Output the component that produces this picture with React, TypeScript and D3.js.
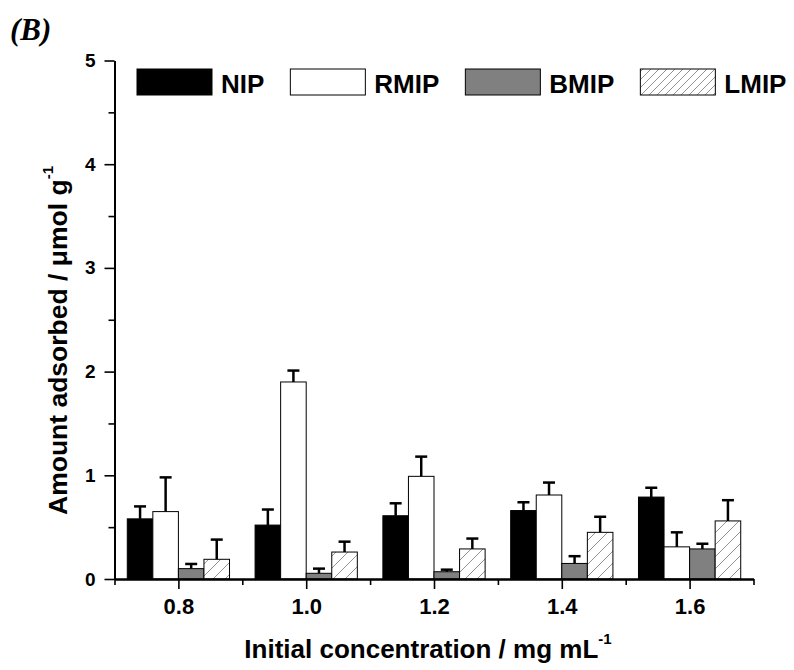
import React, { useEffect, useRef } from "react";
import * as d3 from "d3";

// initial concentration (mg/mL)
const categories = [0.8, 1.0, 1.2, 1.4, 1.6];
const seriesNames = ["NIP", "RMIP", "BMIP", "LMIP"];

// amount adsorbed (umol/g) and the upper error
const nipValues = [0.58, 0.52, 0.61, 0.66, 0.79];
const nipErrors = [0.12, 0.15, 0.12, 0.08, 0.09];
const rmipValues = [0.65, 1.9, 0.99, 0.81, 0.31];
const rmipErrors = [0.33, 0.11, 0.19, 0.12, 0.14];
const bmipValues = [0.1, 0.055, 0.07, 0.15, 0.29];
const bmipErrors = [0.045, 0.045, 0.02, 0.07, 0.05];
const lmipValues = [0.19, 0.26, 0.29, 0.45, 0.56];
const lmipErrors = [0.19, 0.1, 0.1, 0.15, 0.2];

const yTicks = [0, 1, 2, 3, 4, 5];
const yMinorTicks = [0.5, 1.5, 2.5, 3.5, 4.5];
const xMinorTicks = [0.7, 0.9, 1.1, 1.3, 1.5, 1.7];

const FONT = "'Liberation Sans', Arial, sans-serif";

const App = () => {
  const ref = useRef<SVGSVGElement | null>(null);

  useEffect(() => {
    const svg = d3.select(ref.current);
    svg.selectAll("*").remove();

    const x = d3.scaleLinear().domain([0.7, 1.7]).range([114.5, 753.5]);
    const y = d3.scaleLinear().domain([0, 5]).range([579, 60.5]);
    const barW = x(0.74) - x(0.7);

    const defs = svg.append("defs");
    const hatch = (id, size) => {
      const p = defs
        .append("pattern")
        .attr("id", id)
        .attr("patternUnits", "userSpaceOnUse")
        .attr("width", size)
        .attr("height", size);
      p.append("rect").attr("width", size).attr("height", size).attr("fill", "white");
      p.append("path")
        .attr("d", `M0,${size} L${size},0 M${-size / 2},${size / 2} L${size / 2},${-size / 2} M${size / 2},${size * 1.5} L${size * 1.5},${size / 2}`)
        .attr("stroke", "#777")
        .attr("stroke-width", 0.8);
    };
    hatch("hatchBar", 12);
    hatch("hatchLegend", 8);

    const fills = ["#000", "#fff", "#808080", "url(#hatchBar)"];
    const legendFills = ["#000", "#fff", "#808080", "url(#hatchLegend)"];

    const series = [
      { name: "NIP", values: nipValues, errors: nipErrors },
      { name: "RMIP", values: rmipValues, errors: rmipErrors },
      { name: "BMIP", values: bmipValues, errors: bmipErrors },
      { name: "LMIP", values: lmipValues, errors: lmipErrors },
    ];

    // bars
    series.forEach((s, si) => {
      const g = svg.append("g");
      const data = categories.map((c, i) => ({ c, v: s.values[i], e: s.errors[i] }));
      g.selectAll("rect")
        .data(data)
        .enter()
        .append("rect")
        .attr("x", (d) => x(d.c) + (si - 2) * barW)
        .attr("y", (d) => y(d.v))
        .attr("width", barW)
        .attr("height", (d) => y(0) - y(d.v))
        .attr("fill", fills[si])
        .attr("stroke", "#000")
        .attr("stroke-width", 1);

      // error bars, upper half only
      const cx = (d) => x(d.c) + (si - 1.5) * barW;
      g.selectAll("line.stem")
        .data(data)
        .enter()
        .append("line")
        .attr("x1", cx)
        .attr("x2", cx)
        .attr("y1", (d) => y(d.v))
        .attr("y2", (d) => y(d.v + d.e))
        .attr("stroke", "#000")
        .attr("stroke-width", 2.5);
      g.selectAll("line.cap")
        .data(data)
        .enter()
        .append("line")
        .attr("x1", (d) => cx(d) - 6)
        .attr("x2", (d) => cx(d) + 6)
        .attr("y1", (d) => y(d.v + d.e))
        .attr("y2", (d) => y(d.v + d.e))
        .attr("stroke", "#000")
        .attr("stroke-width", 2.5);
    });

    // axes
    const styleAxis = (g, size) => {
      g.attr("font-size", null).attr("font-family", null);
      g.select(".domain").attr("stroke", "#000").attr("stroke-width", 2);
      g.selectAll(".tick line").attr("stroke", "#000").attr("stroke-width", 1.6);
      g.selectAll(".tick text")
        .attr("font-family", FONT)
        .attr("font-weight", "bold")
        .attr("font-size", size)
        .attr("fill", "#000");
    };

    const yAxis = svg
      .append("g")
      .attr("transform", `translate(${x(0.7)},0)`)
      .call(d3.axisLeft(y).tickValues(yTicks).tickFormat(d3.format("d")).tickSize(10).tickSizeOuter(0).tickPadding(9));
    styleAxis(yAxis, 19);
    const yMinor = svg
      .append("g")
      .attr("transform", `translate(${x(0.7)},0)`)
      .call(d3.axisLeft(y).tickValues(yMinorTicks).tickFormat(() => "").tickSize(6).tickSizeOuter(0));
    styleAxis(yMinor, 19);

    const xAxis = svg
      .append("g")
      .attr("transform", `translate(0,${y(0)})`)
      .call(d3.axisBottom(x).tickValues(categories).tickFormat(d3.format(".1f")).tickSize(10).tickSizeOuter(0).tickPadding(9));
    styleAxis(xAxis, 22);
    const xMinor = svg
      .append("g")
      .attr("transform", `translate(0,${y(0)})`)
      .call(d3.axisBottom(x).tickValues(xMinorTicks).tickFormat(() => "").tickSize(6).tickSizeOuter(0));
    styleAxis(xMinor, 22);

    // axis titles
    const xt = svg
      .append("text")
      .attr("x", 428)
      .attr("y", 658)
      .attr("text-anchor", "middle")
      .attr("font-family", FONT)
      .attr("font-weight", "bold")
      .attr("font-size", 26)
      .text("Initial concentration / mg mL");
    xt.append("tspan").attr("font-size", 15).attr("dy", -14).text("-1");

    const yt = svg
      .append("text")
      .attr("transform", "translate(67,515) rotate(-90)")
      .attr("text-anchor", "start")
      .attr("font-family", FONT)
      .attr("font-weight", "bold")
      .attr("font-size", 26.5)
      .text("Amount adsorbed / \u03bcmol g");
    yt.append("tspan").attr("font-size", 15).attr("dy", -14).text("-1");

    // panel label
    svg
      .append("text")
      .attr("x", 10)
      .attr("y", 40)
      .attr("font-family", "'Liberation Serif', 'Times New Roman', serif")
      .attr("font-weight", "bold")
      .attr("font-style", "italic")
      .attr("font-size", 31)
      .text("(B)");

    // legend
    let lx = 137;
    seriesNames.forEach((name, i) => {
      svg
        .append("rect")
        .attr("x", lx)
        .attr("y", 69)
        .attr("width", 75)
        .attr("height", 26)
        .attr("fill", legendFills[i])
        .attr("stroke", "#000")
        .attr("stroke-width", 1);
      const t = svg
        .append("text")
        .attr("x", lx + 84)
        .attr("y", 93)
        .attr("font-family", FONT)
        .attr("font-weight", "bold")
        .attr("font-size", 26)
        .text(name);
      const w = (t.node() as SVGTextElement).getComputedTextLength();
      lx = lx + 84 + w + 26;
    });
  }, []);

  return (
    <svg
      ref={ref}
      width={794}
      height={670}
      style={{ position: "absolute", left: 0, top: 0, background: "#fff" }}
    />
  );
};

export default App;
